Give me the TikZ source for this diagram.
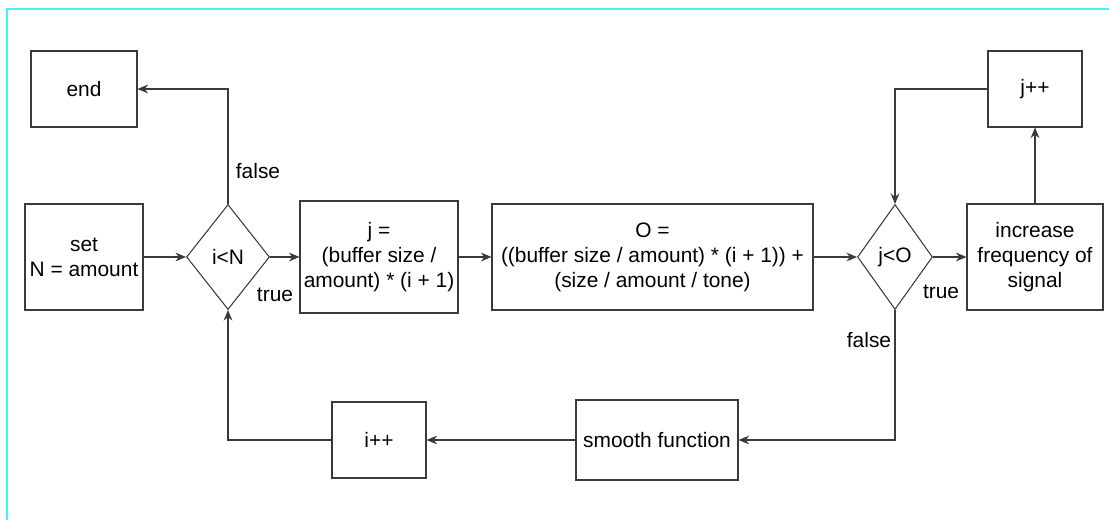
\documentclass[tikz,border=0pt]{standalone}
\usepackage{fontspec}
\setmainfont{Liberation Sans}
\usepackage{tikz}
\usepackage{xcolor}
\usetikzlibrary{shapes.geometric,arrows.meta}

\definecolor{framecyan}{HTML}{3CF6F6}
\definecolor{linegray}{HTML}{3A3A3A}

\tikzset{
    box/.style={draw=linegray, line width=0.6pt, rectangle, align=center, inner sep=0pt},
    decision/.style={draw=linegray, line width=0.6pt, diamond, inner sep=0pt},
    arr/.style={draw=linegray, line width=0.6pt, -{Stealth[length=6pt,width=5pt,inset=2pt]}},
    lbl/.style={inner sep=0pt}
}

\begin{document}
\begin{tikzpicture}[font=\fontsize{11.9}{14.2}\selectfont]
    \useasboundingbox (0,0) rectangle (22.18,-10.4);
    \draw[framecyan, line width=1.1pt] (0.14,-10.4) -- (0.14,-0.18) -- (22.18,-0.18);

    \node[box, minimum width=2.12cm, minimum height=1.52cm] (end) at (1.68,-1.78) {end};
    \node[box, minimum width=2.36cm, minimum height=2.12cm] (set) at (1.68,-5.14) {set\\N = amount};
    \node[decision, minimum width=1.66cm, minimum height=2.1cm] (iN) at (4.56,-5.14) {i<N};
    \node[box, minimum width=3.16cm, minimum height=2.24cm] (jbox) at (7.58,-5.14) {j =\\(buffer size /\\amount) * (i + 1)};
    \node[box, minimum width=6.42cm, minimum height=2.12cm] (Obox) at (13.05,-5.14) {O =\\((buffer size / amount) * (i + 1)) +\\(size / amount / tone)};
    \node[decision, minimum width=1.5cm, minimum height=2.1cm] (jO) at (17.9,-5.14) {j<O};
    \node[box, minimum width=2.72cm, minimum height=2.12cm] (inc) at (20.7,-5.14) {increase\\frequency of\\signal};
    \node[box, minimum width=1.88cm, minimum height=1.52cm] (jpp) at (20.7,-1.78) {j++};
    \node[box, minimum width=3.24cm, minimum height=1.6cm] (smooth) at (13.14,-8.8) {smooth function};
    \node[box, minimum width=1.88cm, minimum height=1.52cm] (ipp) at (7.58,-8.8) {i++};

    \draw[arr] (set) -- (iN);
    \draw[arr] (iN) -- (jbox);
    \draw[arr] (jbox) -- (Obox);
    \draw[arr] (Obox) -- (jO);
    \draw[arr] (jO) -- (inc);
    \draw[arr] (inc) -- (jpp);
    \draw[arr] (jpp.west) -| (jO.north);
    \draw[arr] (jO.south) |- (smooth.east);
    \draw[arr] (smooth) -- (ipp);
    \draw[arr] (ipp.west) -| (iN.south);
    \draw[arr] (iN.north) |- (end.east);

    \node[lbl] (falseN) at (5.16,-3.42) {false};
    \node[lbl] (trueN) at (5.5,-5.9) {true};
    \node[lbl] (trueO) at (18.82,-5.84) {true};
    \node[lbl] (falseO) at (17.38,-6.8) {false};
\end{tikzpicture}
\end{document}
